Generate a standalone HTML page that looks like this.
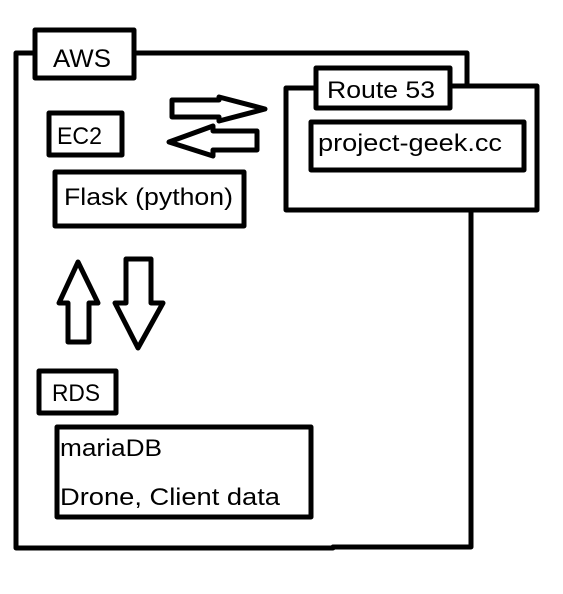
<!DOCTYPE html>
<html><head><style>
html,body{margin:0;padding:0;background:#fff;width:563px;height:594px;overflow:hidden}
svg{display:block}
text{font-family:"Liberation Sans","Noto Sans CJK KR",sans-serif;fill:#000}
</style></head><body>
<svg width="563" height="594" viewBox="0 0 563 594">
<g fill="none" stroke="#000" stroke-width="5" stroke-linejoin="round" stroke-linecap="round">
<polyline points="33,53 16,53 16,548 333,548 333,547 471,547 471,212"/>
<polyline points="135,53 467,53 467,86"/>
<polyline points="314,88 286,88 286,210 537,210 537,86 451,86"/>
<rect x="35" y="30" width="99" height="48" fill="#fff"/>
<rect x="49" y="113" width="73" height="42"/>
<rect x="55" y="172" width="189" height="54"/>
<rect x="316" y="68" width="134" height="40" fill="#fff"/>
<rect x="311" y="122" width="213" height="48"/>
<rect x="39" y="371" width="77" height="42"/>
<rect x="57" y="427" width="254" height="90"/>
<polygon points="172,100 219,100 219,97 265,109 219,121 219,117 172,117"/>
<polygon points="257,131 213,131 213,126 169,142 213,156 213,150 257,150"/>
<polygon points="78,262 98,303 89,303 89,342 68,342 68,303 59,303"/>
<polygon points="126,259 151,259 151,303 163,303 138,348 115,303 126,303"/>
</g>
<text x="53" y="67" font-size="25" textLength="58" lengthAdjust="spacingAndGlyphs">AWS</text>
<text x="57" y="144" font-size="24" textLength="45" lengthAdjust="spacingAndGlyphs">EC2</text>
<text x="64" y="205" font-size="24" textLength="169" lengthAdjust="spacingAndGlyphs">Flask (python)</text>
<text x="327" y="98" font-size="24" textLength="108" lengthAdjust="spacingAndGlyphs">Route 53</text>
<text x="318" y="151" font-size="24" textLength="184" lengthAdjust="spacingAndGlyphs">project-geek.cc</text>
<text x="52" y="401" font-size="24" textLength="48" lengthAdjust="spacingAndGlyphs">RDS</text>
<text x="60" y="456" font-size="24" textLength="102" lengthAdjust="spacingAndGlyphs">mariaDB</text>
<text x="60" y="505" font-size="24" textLength="220" lengthAdjust="spacingAndGlyphs">Drone, Client data</text>
</svg>
</body></html>
